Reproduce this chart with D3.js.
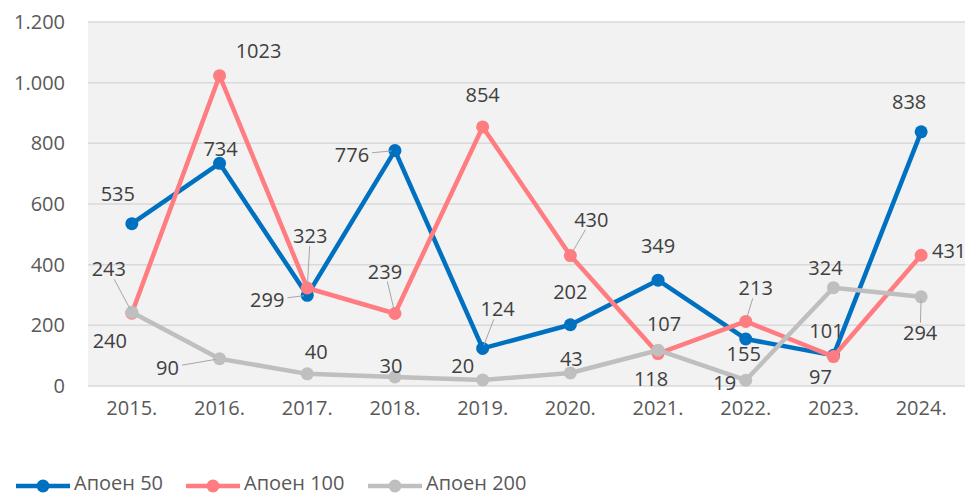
<!doctype html>
<html>
<head>
<meta charset="utf-8">
<script src="https://d3js.org/d3.v7.min.js"></script>
<style>
  body { margin: 0; background: #fff; }
  text { font-family: "Open Sans", "Liberation Sans", sans-serif; }
</style>
</head>
<body>
<div id="chart"></div>
<script>
// data
var years = ["2015.", "2016.", "2017.", "2018.", "2019.", "2020.", "2021.", "2022.", "2023.", "2024."];
var apoen50 = [535, 734, 299, 776, 124, 202, 349, 155, 101, 838];
var apoen100 = [240, 1023, 323, 239, 854, 430, 107, 213, 97, 431];
var apoen200 = [243, 90, 40, 30, 20, 43, 118, 19, 324, 294];
var seriesNames = ["Апоен 50", "Апоен 100", "Апоен 200"];
var yTicks = [0, 200, 400, 600, 800, 1000, 1200];

// label placement (offset of label centre from its point) and leader flags
var labelOffsets = [
  [[-14,-30],[1,-14],[-40,5],[-43,4],[15,-39],[0,-33],[0,-34],[-2,15],[-7,-24],[-12,-30]],
  [[-22,28],[39,-25],[3,-52],[-10,-42],[0,-32],[21,-36],[6,-30],[10,-33],[-13,20],[28,-4]],
  [[-23,-43],[-52,9],[9,-22],[-4,-11],[-20,-14],[1,-14],[-7,29],[-21,3],[-8,-20],[-1,36]]
];
var leaders = [
  [0,0,1,1,1,0,0,0,0,0],
  [0,0,1,1,0,1,0,1,0,0],
  [1,1,0,0,0,0,0,0,0,1]
];

var colors = ["#0070C0", "#FF7C80", "#BFBFBF"];
var W = 965, H = 496;
var plot = {left: 88, right: 965, top: 22, bottom: 386};
var fontSize = 20;

var svg = d3.select("#chart").append("svg")
    .attr("width", W).attr("height", H);

var x = d3.scaleBand().domain(years).range([plot.left, plot.right]);
var y = d3.scaleLinear().domain([0, 1200]).range([plot.bottom, plot.top]);
var cx = function(i) { return x(years[i]) + x.bandwidth() / 2; };

var fmt = d3.formatLocale({decimal: ",", thousands: ".", grouping: [3], currency: ["", ""]}).format(",d");

// plot background
svg.append("rect")
    .attr("x", plot.left).attr("y", plot.top)
    .attr("width", plot.right - plot.left).attr("height", plot.bottom - plot.top)
    .attr("fill", "#F2F2F2");

// gridlines
svg.append("g").selectAll("line").data(yTicks).enter().append("line")
    .attr("x1", plot.left).attr("x2", plot.right)
    .attr("y1", function(d) { return y(d); }).attr("y2", function(d) { return y(d); })
    .attr("stroke", "#D9D9D9").attr("stroke-width", 1.5);

// y axis labels
var yAxis = svg.append("g")
    .attr("transform", "translate(" + (plot.left - 23) + ",0)")
    .call(d3.axisLeft(y).tickValues(yTicks).tickFormat(fmt).tickSize(0).tickPadding(0));
yAxis.select(".domain").remove();
yAxis.selectAll("text").attr("font-size", fontSize).attr("fill", "#595959")
    .style("font-family", "'Open Sans', sans-serif");

// x axis labels
var xAxis = svg.append("g")
    .attr("transform", "translate(0," + plot.bottom + ")")
    .call(d3.axisBottom(x).tickSize(0).tickPadding(15));
xAxis.select(".domain").remove();
xAxis.selectAll("text").attr("font-size", fontSize).attr("fill", "#595959")
    .style("font-family", "'Open Sans', sans-serif");

var allSeries = [apoen50, apoen100, apoen200];
var line = d3.line().x(function(d, i) { return cx(i); }).y(function(d) { return y(d); });

allSeries.forEach(function(vals, s) {
    var g = svg.append("g");
    g.append("path").datum(vals)
        .attr("d", line)
        .attr("fill", "none")
        .attr("stroke", colors[s])
        .attr("stroke-width", 4.5)
        .attr("stroke-linejoin", "round");
    g.selectAll("circle").data(vals).enter().append("circle")
        .attr("cx", function(d, i) { return cx(i); })
        .attr("cy", function(d) { return y(d); })
        .attr("r", 6.5)
        .attr("fill", colors[s]);
});

// data labels with leader lines
var labelG = svg.append("g");
allSeries.forEach(function(vals, s) {
    vals.forEach(function(v, i) {
        var px = cx(i), py = y(v);
        var lx = px + labelOffsets[s][i][0], ly = py + labelOffsets[s][i][1];
        var t = labelG.append("text")
            .attr("x", lx).attr("y", ly).attr("dy", "0.35em")
            .attr("text-anchor", "middle")
            .attr("font-size", fontSize).attr("fill", "#404040")
            .text(v);
        if (leaders[s][i]) {
            var bb = t.node().getBBox();
            var hw = bb.width / 2 + 3, hh = 10;
            var dx = px - lx, dy = py - ly;
            var k = Math.min(Math.abs(dx) > 0 ? hw / Math.abs(dx) : 1e9, Math.abs(dy) > 0 ? hh / Math.abs(dy) : 1e9);
            labelG.insert("line", "text")
                .attr("x1", lx + dx * k).attr("y1", ly + dy * k)
                .attr("x2", px - dx * 0.08).attr("y2", py - dy * 0.08)
                .attr("stroke", "#A6A6A6").attr("stroke-width", 1);
        }
    });
});

// legend
var legendX = [16, 186, 368];
var legend = svg.append("g").attr("transform", "translate(0,486)");
seriesNames.forEach(function(name, s) {
    var lg = legend.append("g").attr("transform", "translate(" + legendX[s] + ",0)");
    lg.append("line").attr("x1", 0).attr("x2", 54).attr("y1", 0).attr("y2", 0)
        .attr("stroke", colors[s]).attr("stroke-width", 4.5);
    lg.append("circle").attr("cx", 27).attr("cy", 0).attr("r", 6.5).attr("fill", colors[s]);
    lg.append("text").attr("x", 58).attr("y", 4)
        .attr("font-size", fontSize).attr("fill", "#595959").text(name);
});
</script>
</body>
</html>
